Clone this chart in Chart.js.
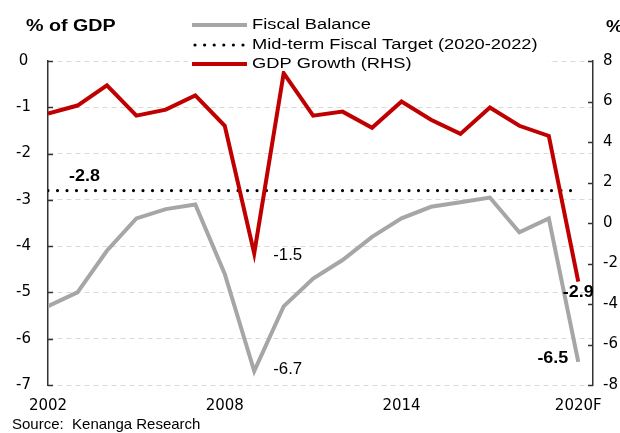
<!DOCTYPE html>
<html>
<head>
<meta charset="utf-8">
<script src="https://cdn.jsdelivr.net/npm/chart.js@4"></script>
<style>
  html, body { margin: 0; padding: 0; background: #fff; }
  #wrap { width: 620px; height: 433px; position: relative; }
</style>
</head>
<body>
<div id="wrap"><canvas id="myChart" width="620" height="433"></canvas></div>
<script>
const years = ['2002', '2003', '2004', '2005', '2006', '2007', '2008', '2009', '2010', '2011',
	'2012', '2013', '2014', '2015', '2016', '2017', '2018', '2019', '2020F'];
const fiscalBalance = [-5.3, -5.0, -4.1, -3.4, -3.2, -3.1, -4.6, -6.7, -5.3, -4.7,
	-4.3, -3.8, -3.4, -3.15, -3.05, -2.95, -3.7, -3.4, -6.5];
const fiscalTarget = [-2.8, -2.8, -2.8, -2.8, -2.8, -2.8, -2.8, -2.8, -2.8, -2.8,
	-2.8, -2.8, -2.8, -2.8, -2.8, -2.8, -2.8, -2.8, -2.8];
const gdpGrowth = [5.4, 5.8, 6.8, 5.3, 5.6, 6.3, 4.8, -1.5, 7.4, 5.3,
	5.5, 4.7, 6.0, 5.1, 4.4, 5.7, 4.8, 4.3, -2.9];
const xTickYears = ['2002', '2008', '2014', '2020F'];
const leftTicks = [0, -1, -2, -3, -4, -5, -6, -7];
const rightTicks = [8, 6, 4, 2, 0, -2, -4, -6, -8];

const FONT = 'Arial, "Liberation Sans", sans-serif';
const TICKFONT = '"DejaVu Sans", sans-serif';
const GREY = '#a6a6a6';
const RED = '#c00000';

// pair each value with its year position on the x axis
const toPoints = arr => arr.map((v, i) => ({x: i, y: v}));

// text squeezed/stretched sideways like the source picture
function wideText(c, text, x, y, align, sx) {
	c.save();
	c.translate(x, y);
	c.scale(sx, 1);
	c.textAlign = align;
	c.fillText(text, 0, 0);
	c.restore();
}

// titles, legend, value labels, inward tick marks
const extras = {
	id: 'extras',
	afterDraw(chart) {
		const c = chart.ctx;
		const x = chart.scales.x, yl = chart.scales.y, yr = chart.scales.y1;
		c.save();

		// inward tick marks
		c.strokeStyle = '#333';
		c.lineWidth = 1.5;
		leftTicks.forEach(v => {
			const py = Math.round(yl.getPixelForValue(v)) + 0.5;
			c.beginPath(); c.moveTo(yl.right, py); c.lineTo(yl.right + 5, py); c.stroke();
		});
		rightTicks.forEach(v => {
			const py = Math.round(yr.getPixelForValue(v)) + 0.5;
			c.beginPath(); c.moveTo(yr.left, py); c.lineTo(yr.left - 5, py); c.stroke();
		});

		// titles
		c.fillStyle = '#000';
		c.textBaseline = 'middle';
		c.font = 'bold 16px ' + FONT;
		wideText(c, '% of GDP', 26, 27, 'left', 1.23);
		wideText(c, '%', 606, 28, 'left', 1.2);

		// legend
		c.fillStyle = '#fff';
		c.fillRect(188, 12, 360, 59);
		const items = [
			{label: 'Fiscal Balance', color: GREY, dots: false, y: 25},
			{label: 'Mid-term Fiscal Target (2020-2022)', color: '#000', dots: true, y: 45},
			{label: 'GDP Growth (RHS)', color: RED, dots: false, y: 64}
		];
		items.forEach(it => {
			c.strokeStyle = it.color;
			c.beginPath();
			if (it.dots) {
				c.lineWidth = 3.2;
				c.lineCap = 'round';
				c.setLineDash([0, 9.6]);
				c.moveTo(195, it.y); c.lineTo(247, it.y);
			} else {
				c.lineWidth = 4;
				c.lineCap = 'butt';
				c.setLineDash([]);
				c.moveTo(192, it.y); c.lineTo(247, it.y);
			}
			c.stroke();
			c.setLineDash([]);
			c.fillStyle = '#000';
			c.font = '15.5px ' + FONT;
			wideText(c, it.label, 252, it.y, 'left', 1.18);
		});

		// value labels
		const px = i => x.getPixelForValue(i);
		c.fillStyle = '#000';
		c.font = 'bold 16px ' + FONT;
		wideText(c, '-2.8', px(1) + 7, yl.getPixelForValue(fiscalTarget[1]) - 14, 'center', 1.12);
		wideText(c, '-2.9', px(18), yr.getPixelForValue(gdpGrowth[18]) + 11, 'center', 1.12);
		wideText(c, '-6.5', px(18) - 10, yl.getPixelForValue(fiscalBalance[18]) - 3, 'right', 1.12);
		c.font = '16px ' + FONT;
		wideText(c, '-1.5', px(7) + 19, yr.getPixelForValue(gdpGrowth[7]) + 2, 'left', 1.05);
		wideText(c, '-6.7', px(7) + 19, yl.getPixelForValue(fiscalBalance[7]) - 2, 'left', 1.05);

		// source
		c.font = '15px ' + FONT;
		c.textBaseline = 'top';
		c.textAlign = 'left';
		c.fillText('Source:  Kenanga Research', 12, 417);
		c.restore();
	}
};

const ctx = document.getElementById('myChart').getContext('2d');

let myLineChart = new Chart(ctx, {
	type: 'line',
	data: {
		datasets: [{
			label: 'Fiscal Balance',
			data: toPoints(fiscalBalance),
			yAxisID: 'y',
			borderColor: GREY,
			borderWidth: 4,
			pointRadius: 0,
			tension: 0,
			order: 3
		}, {
			label: 'Mid-term Fiscal Target (2020-2022)',
			data: toPoints(fiscalTarget),
			yAxisID: 'y',
			borderColor: '#000',
			borderWidth: 3.2,
			borderDash: [0, 9.5],
			borderCapStyle: 'round',
			pointRadius: 0,
			order: 2
		}, {
			label: 'GDP Growth (RHS)',
			data: toPoints(gdpGrowth),
			yAxisID: 'y1',
			borderColor: RED,
			borderWidth: 4,
			pointRadius: 0,
			tension: 0,
			order: 1
		}]
	},
	options: {
		responsive: false,
		animation: false,
		layout: { padding: { top: 61, left: 0, right: 0, bottom: 0 } },
		plugins: {
			legend: { display: false },
			tooltip: { enabled: false }
		},
		scales: {
			x: {
				type: 'linear',
				min: 0,
				max: 18.5,
				grid: { display: false },
				border: { display: false },
				afterFit(s) { s.height = 48; s.paddingLeft = 0; s.paddingRight = 0; },
				afterBuildTicks(s) { s.ticks = xTickYears.map(y => ({value: years.indexOf(y)})); },
				ticks: {
					maxRotation: 0,
					padding: 4,
					color: '#000',
					font: { family: TICKFONT, size: 15 },
					callback: v => years[v]
				}
			},
			y: {
				position: 'left',
				min: -7,
				max: 0,
				afterFit(s) { s.width = 48; },
				afterBuildTicks(s) { s.ticks = leftTicks.map(v => ({value: v})); },
				grid: { color: '#d9d9d9', lineWidth: 1, drawTicks: false },
				border: { display: true, color: '#333', width: 1.5, dash: [5, 4] },
				ticks: {
					padding: 17,
					crossAlign: 'center',
					color: '#000',
					font: { family: TICKFONT, size: 15 }
				}
			},
			y1: {
				position: 'right',
				min: -8,
				max: 8,
				afterFit(s) { s.width = 27; s.paddingTop = 0; s.paddingBottom = 0; },
				afterBuildTicks(s) { s.ticks = rightTicks.map(v => ({value: v})); },
				grid: { drawOnChartArea: false, drawTicks: false },
				border: { display: true, color: '#333', width: 1.5 },
				ticks: {
					padding: 10,
					crossAlign: 'near',
					color: '#000',
					font: { family: TICKFONT, size: 15 }
				}
			}
		}
	},
	plugins: [extras]
});
</script>
</body>
</html>
